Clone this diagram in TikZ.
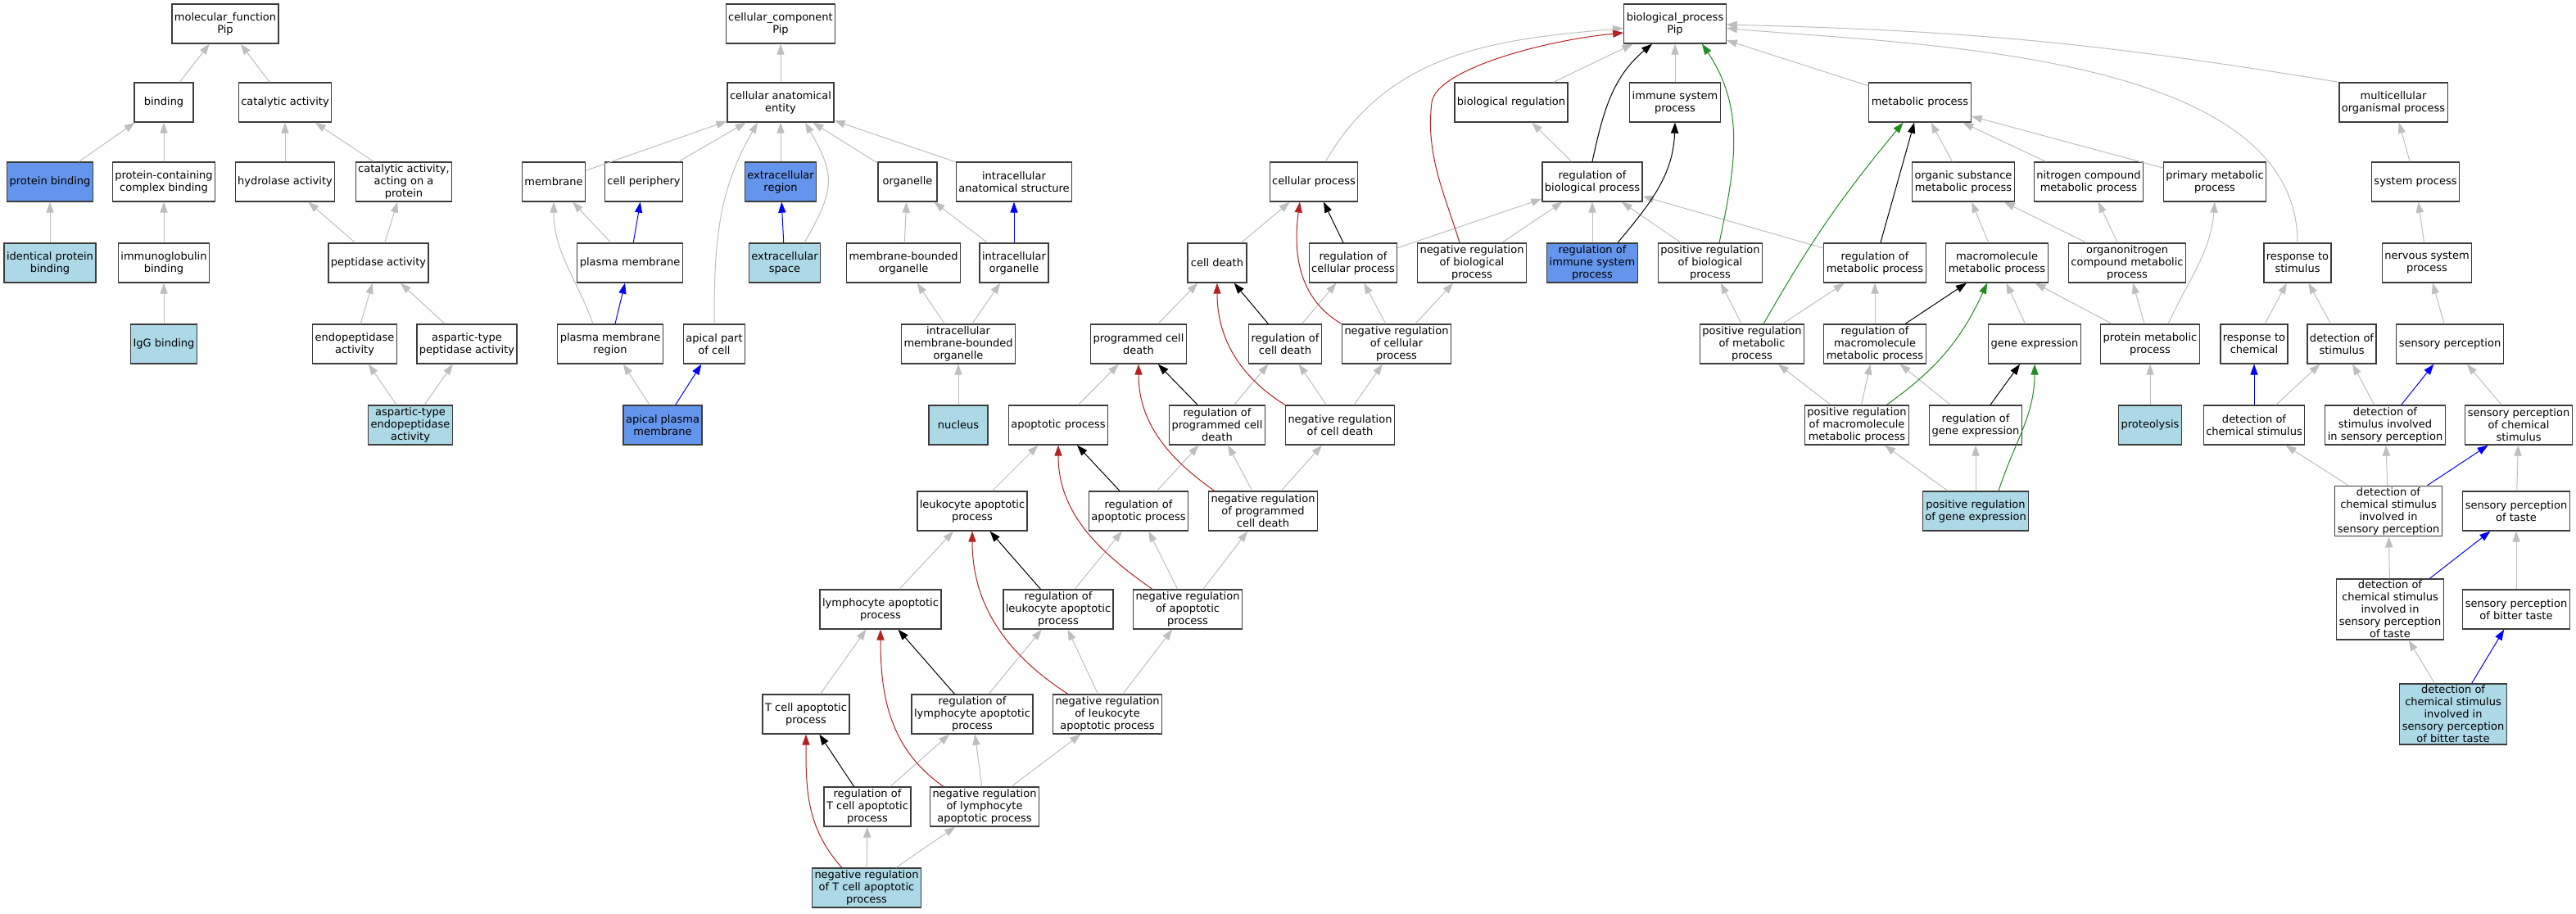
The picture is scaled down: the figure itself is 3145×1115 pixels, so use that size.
\documentclass[tikz,border=0pt]{standalone}
\usepackage{fontspec}
\setmainfont{DejaVu Sans}
\usetikzlibrary{arrows.meta}
\definecolor{edgegray}{RGB}{190,190,190}
\definecolor{lightblue}{RGB}{173,216,230}
\definecolor{cornflower}{RGB}{100,149,237}
\definecolor{firebrick}{RGB}{178,34,34}
\definecolor{forestgreen}{RGB}{34,139,34}
\definecolor{boxline}{RGB}{60,60,60}

\begin{document}
\begin{tikzpicture}[x=0.5pt, y=-0.5pt, >={Triangle[length=6.5pt,width=4.6pt]},
  term/.style={draw=boxline, line width=0.65pt, fill=white, align=center, minimum width=36pt, minimum height=24pt, inner xsep=1.5pt, inner ysep=1pt, font=\fontsize{6.5pt}{7.5pt}\selectfont},
  hitterm/.style={term, fill=lightblue}, seedterm/.style={term, fill=cornflower},
  isa/.style={color=edgegray, line width=0.5pt}, partof/.style={color=blue, line width=0.5pt},
  regulates/.style={color=black, line width=0.5pt}, negregulates/.style={color=firebrick, line width=0.5pt},
  posregulates/.style={color=forestgreen, line width=0.5pt}]
        \path[use as bounding box, fill=white] (0,0) rectangle (3145,1115);

        \node[term]     (mf)          at (275,29)   {molecular\_function\\Pip};
        \node[term]     (bind)        at (200,125)  {binding};
        \node[term]     (cat)         at (348,125)  {catalytic activity};
        \node[seedterm] (protbind)    at (61,222)   {protein binding};
        \node[term]     (complexbind) at (200,222)  {protein-containing\\complex binding};
        \node[term]     (hydro)       at (348,222)  {hydrolase activity};
        \node[term]     (catprot)     at (493,222)  {catalytic activity,\\acting on a\\protein};
        \node[hitterm]  (identbind)   at (61,321)   {identical protein\\binding};
        \node[term]     (igbind)      at (200,321)  {immunoglobulin\\binding};
        \node[term]     (pept)        at (462,321)  {peptidase activity};
        \node[hitterm]  (iggbind)     at (200,420)  {IgG binding};
        \node[term]     (endopept)    at (433,420)  {endopeptidase\\activity};
        \node[term]     (asppept)     at (570,420)  {aspartic-type\\peptidase activity};
        \node[hitterm]  (aspendo)     at (501,519)  {aspartic-type\\endopeptidase\\activity};

        \node[term]     (cc)          at (953,29)   {cellular\_component\\Pip};
        \node[term]     (cae)         at (953,125)  {cellular anatomical\\entity};
        \node[term]     (membr)       at (676,222)  {membrane};
        \node[term]     (periph)      at (786,222)  {cell periphery};
        \node[seedterm] (exreg)       at (953,222)  {extracellular\\region};
        \node[term]     (organ)       at (1108,222) {organelle};
        \node[term]     (intanat)     at (1238,222) {intracellular\\anatomical structure};
        \node[term]     (plasma)      at (769,321)  {plasma membrane};
        \node[hitterm]  (exspace)     at (958,321)  {extracellular\\space};
        \node[term]     (membound)    at (1103,321) {membrane-bounded\\organelle};
        \node[term]     (intorg)      at (1238,321) {intracellular\\organelle};
        \node[term]     (plasmareg)   at (745,420)  {plasma membrane\\region};
        \node[term]     (apical)      at (872,420)  {apical part\\of cell};
        \node[term]     (intmemb)     at (1170,420) {intracellular\\membrane-bounded\\organelle};
        \node[seedterm] (apicalpm)    at (809,519)  {apical plasma\\membrane};
        \node[hitterm]  (nucleus)     at (1170,519) {nucleus};

        \node[term]     (bp)          at (2045,29)  {biological\_process\\Pip};
        \node[term]     (bioreg)      at (1845,125) {biological regulation};
        \node[term]     (immune)      at (2045,125) {immune system\\process};
        \node[term]     (metab)       at (2344,125) {metabolic process};
        \node[term]     (multi)       at (2922,125) {multicellular\\organismal process};
        \node[term]     (cellproc)    at (1604,222) {cellular process};
        \node[term]     (regbio)      at (1944,222) {regulation of\\biological process};
        \node[term]     (orgsub)      at (2397,222) {organic substance\\metabolic process};
        \node[term]     (nitro)       at (2550,222) {nitrogen compound\\metabolic process};
        \node[term]     (primary)     at (2704,222) {primary metabolic\\process};
        \node[term]     (sysproc)     at (2949,222) {system process};
        \node[term]     (celldeath)   at (1486,321) {cell death};
        \node[term]     (regcell)     at (1652,321) {regulation of\\cellular process};
        \node[term]     (negbio)      at (1797,321) {negative regulation\\of biological\\process};
        \node[seedterm] (regimmune)   at (1944,321) {regulation of\\immune system\\process};
        \node[term]     (posbio)      at (2088,321) {positive regulation\\of biological\\process};
        \node[term]     (regmetab)    at (2289,321) {regulation of\\metabolic process};
        \node[term]     (macro)       at (2438,321) {macromolecule\\metabolic process};
        \node[term]     (organo)      at (2597,321) {organonitrogen\\compound metabolic\\process};
        \node[term]     (resp)        at (2805,321) {response to\\stimulus};
        \node[term]     (nervous)     at (2963,321) {nervous system\\process};
        \node[term]     (pcd)         at (1390,420) {programmed cell\\death};
        \node[term]     (regdeath)    at (1569,420) {regulation of\\cell death};
        \node[term]     (negcell)     at (1705,420) {negative regulation\\of cellular\\process};
        \node[term]     (posmetab)    at (2139,420) {positive regulation\\of metabolic\\process};
        \node[term]     (regmacro)    at (2289,420) {regulation of\\macromolecule\\metabolic process};
        \node[term]     (geneexp)     at (2484,420) {gene expression};
        \node[term]     (protmetab)   at (2625,420) {protein metabolic\\process};
        \node[term]     (respchem)    at (2752,420) {response to\\chemical};
        \node[term]     (detstim)     at (2859,420) {detection of\\stimulus};
        \node[term]     (sensory)     at (2991,420) {sensory perception};
        \node[term]     (apop)        at (1292,519) {apoptotic process};
        \node[term]     (regpcd)      at (1486,519) {regulation of\\programmed cell\\death};
        \node[term]     (negdeath)    at (1636,519) {negative regulation\\of cell death};
        \node[term]     (posmacro)    at (2267,519) {positive regulation\\of macromolecule\\metabolic process};
        \node[term]     (reggene)     at (2412,519) {regulation of\\gene expression};
        \node[hitterm]  (proteo)      at (2625,519) {proteolysis};
        \node[term]     (detchem)     at (2752,519) {detection of\\chemical stimulus};
        \node[term]     (detsens)     at (2912,519) {detection of\\stimulus involved\\in sensory perception};
        \node[term]     (senschem)    at (3075,519) {sensory perception\\of chemical\\stimulus};
        \node[term]     (leuk)        at (1187,624) {leukocyte apoptotic\\process};
        \node[term]     (regapop)     at (1390,624) {regulation of\\apoptotic process};
        \node[term]     (negpcd)      at (1542,624) {negative regulation\\of programmed\\cell death};
        \node[hitterm]  (posgene)     at (2412,624) {positive regulation\\of gene expression};
        \node[term]     (detchemsens) at (2916,624) {detection of\\chemical stimulus\\involved in\\sensory perception};
        \node[term]     (taste)       at (3072,624) {sensory perception\\of taste};
        \node[term]     (lymph)       at (1075,744) {lymphocyte apoptotic\\process};
        \node[term]     (regleuk)     at (1292,744) {regulation of\\leukocyte apoptotic\\process};
        \node[term]     (negapop)     at (1450,744) {negative regulation\\of apoptotic\\process};
        \node[term]     (dettaste)    at (2918,744) {detection of\\chemical stimulus\\involved in\\sensory perception\\of taste};
        \node[term]     (bitter)      at (3072,744) {sensory perception\\of bitter taste};
        \node[term]     (tcell)       at (984,872)  {T cell apoptotic\\process};
        \node[term]     (reglymph)    at (1187,872) {regulation of\\lymphocyte apoptotic\\process};
        \node[term]     (negleuk)     at (1352,872) {negative regulation\\of leukocyte\\apoptotic process};
        \node[hitterm]  (detbitter)   at (2995,872) {detection of\\chemical stimulus\\involved in\\sensory perception\\of bitter taste};
        \node[term]     (regtcell)    at (1059,985) {regulation of\\T cell apoptotic\\process};
        \node[term]     (neglymph)    at (1202,985) {negative regulation\\of lymphocyte\\apoptotic process};
        \node[hitterm]  (negtcell)    at (1058,1084) {negative regulation\\of T cell apoptotic\\process};

    \path[->, isa] (bind) edge (mf)    (cat) edge (mf)
                   (protbind) edge (bind)    (complexbind) edge (bind)
                   (hydro) edge (cat)    (catprot) edge (cat)
                   (identbind) edge (protbind)    (igbind) edge (complexbind)
                   (pept) edge (hydro)    (pept) edge (catprot)
                   (iggbind) edge (igbind)
                   (endopept) edge (pept)    (asppept) edge (pept)
                   (aspendo) edge (endopept)    (aspendo) edge (asppept);

    \path[->, isa] (cae) edge (cc)
                   (membr) edge (cae)    (periph) edge (cae)    (exreg) edge (cae)
                   (organ) edge (cae)    (intanat) edge (cae)
                   (apical.north) edge[out=90, in=-120] ([xshift=-14pt]cae.south)
                   ([xshift=12pt]exspace.north) edge[out=60, in=-60, looseness=1.3] ([xshift=15pt]cae.south)
                   (plasma) edge (membr)
                   ([xshift=-10.5pt]plasmareg.north) edge[out=110, in=-90] (membr.south)
                   (apicalpm) edge (plasmareg)
                   (membound) edge (organ)    (intorg) edge (organ)
                   (intmemb) edge (membound)    (intmemb) edge (intorg)
                   (nucleus) edge (intmemb);
    \path[->, partof] (plasma) edge (periph)    (exspace) edge (exreg)
                   (plasmareg) edge (plasma)    (apicalpm) edge (apical)
                   (intorg) edge (intanat);

    \path[->, isa] (regbio) edge (bioreg)    (bioreg) edge (bp)
                   (immune) edge (bp)    (metab) edge (bp)
                   (cellproc) edge[out=60, in=185] (bp)
                   (resp) edge[out=90, in=-5, looseness=0.8] (bp)
                   (multi.north west) edge[bend right=4] (bp)
                   (regcell) edge (regbio)    (negbio) edge (regbio)
                   (regimmune) edge (regbio)    (posbio) edge (regbio)
                   (regmetab) edge (regbio)
                   (celldeath) edge (cellproc)
                   (regdeath) edge (regcell)    (negcell) edge (regcell)
                   (negcell) edge (negbio)
                   (pcd) edge (celldeath)
                   (regpcd) edge (regdeath)    (negdeath) edge (regdeath)
                   (negdeath) edge (negcell)
                   (apop) edge (pcd)
                   (regapop) edge (regpcd)    (negpcd) edge (regpcd)
                   (negpcd) edge (negdeath)
                   (leuk) edge (apop)
                   (regleuk) edge (regapop)    (negapop) edge (regapop)
                   (negapop) edge (negpcd)
                   (lymph) edge (leuk)
                   (reglymph) edge (regleuk)    (negleuk) edge (regleuk)
                   (negleuk) edge (negapop)
                   (tcell) edge (lymph)
                   (regtcell) edge (reglymph)    (neglymph) edge (reglymph)
                   (neglymph) edge (negleuk)
                   (negtcell) edge (regtcell)    (negtcell) edge (neglymph);

    \path[->, isa] (orgsub) edge (metab)    (nitro) edge (metab)    (primary) edge (metab)
                   (macro) edge (orgsub)    (organo) edge (orgsub)    (organo) edge (nitro)
                   ([xshift=11pt]protmetab.north) edge[out=65, in=-95] (primary.south)
                   (posmetab) edge (regmetab)    (regmacro) edge (regmetab)
                   (posmetab) edge (posbio)
                   (geneexp) edge (macro)    (protmetab) edge (macro)
                   (protmetab) edge (organo)
                   (posmacro) edge (posmetab)    (posmacro) edge (regmacro)
                   (reggene) edge (regmacro)
                   (posgene) edge (posmacro)    (posgene) edge (reggene)
                   (proteo) edge (protmetab)
                   (sysproc) edge (multi)    (nervous) edge (sysproc)
                   (sensory) edge (nervous)
                   (respchem) edge (resp)    (detstim) edge (resp)
                   (detchem) edge (detstim)    (detsens) edge (detstim)
                   (senschem) edge (sensory)
                   (detchemsens) edge (detchem)    (detchemsens) edge (detsens)
                   (taste) edge (senschem)
                   (dettaste) edge (detchemsens)
                   (bitter) edge (taste)
                   (detbitter) edge (dettaste);
    \path[->, partof] (detchem) edge (respchem)    (detsens) edge (sensory)
                   (detchemsens) edge (senschem)    (dettaste) edge (taste)
                   (detbitter) edge (bitter);

    \path[->, regulates] (regbio.north) edge[out=78, in=-140] ([xshift=-14pt]bp.south)
                   ([xshift=15.5pt]regimmune.north) edge[out=50, in=-92] (immune.south)
                   (regcell) edge (cellproc)    (regdeath) edge (celldeath)
                   (regpcd) edge (pcd)    (regapop) edge (apop)
                   (regleuk) edge (leuk)    (reglymph) edge (lymph)
                   (regtcell) edge (tcell)
                   (regmetab) edge (metab)    (regmacro) edge (macro)
                   (reggene) edge (geneexp);

    \draw[->, negregulates] ([xshift=-7.5pt]negbio.north) .. controls (1765,240) and (1740,190) .. (1748,125)
                   .. controls (1753,86) and (1880,50) .. ([yshift=-5.5pt]bp.west);
    \path[->, negregulates] (negcell.north west) edge[out=150, in=-98] ([xshift=-8.5pt]cellproc.south)
                   (negdeath.north west) edge[out=148, in=-90] (celldeath.south)
                   ([xshift=4pt]negpcd.north west) edge[out=145, in=-90] (pcd.south)
                   ([xshift=12pt]negapop.north west) edge[out=145, in=-90] (apop.south)
                   ([xshift=9.5pt]negleuk.north west) edge[out=147, in=-90] (leuk.south)
                   ([xshift=8.5pt]neglymph.north west) edge[out=145, in=-90] (lymph.south)
                   ([xshift=18.5pt]negtcell.north west) edge[out=132, in=-90] (tcell.south);

    \path[->, posregulates] ([xshift=5.5pt]posbio.north) edge[out=78, in=-56] ([xshift=16.5pt]bp.south)
                   (posmetab) edge[bend left=5] (metab)
                   (posmacro) edge[bend right=15] (macro)
                   ([xshift=14pt]posgene.north) edge[out=72, in=-90] (geneexp.south);
\end{tikzpicture}
\end{document}
